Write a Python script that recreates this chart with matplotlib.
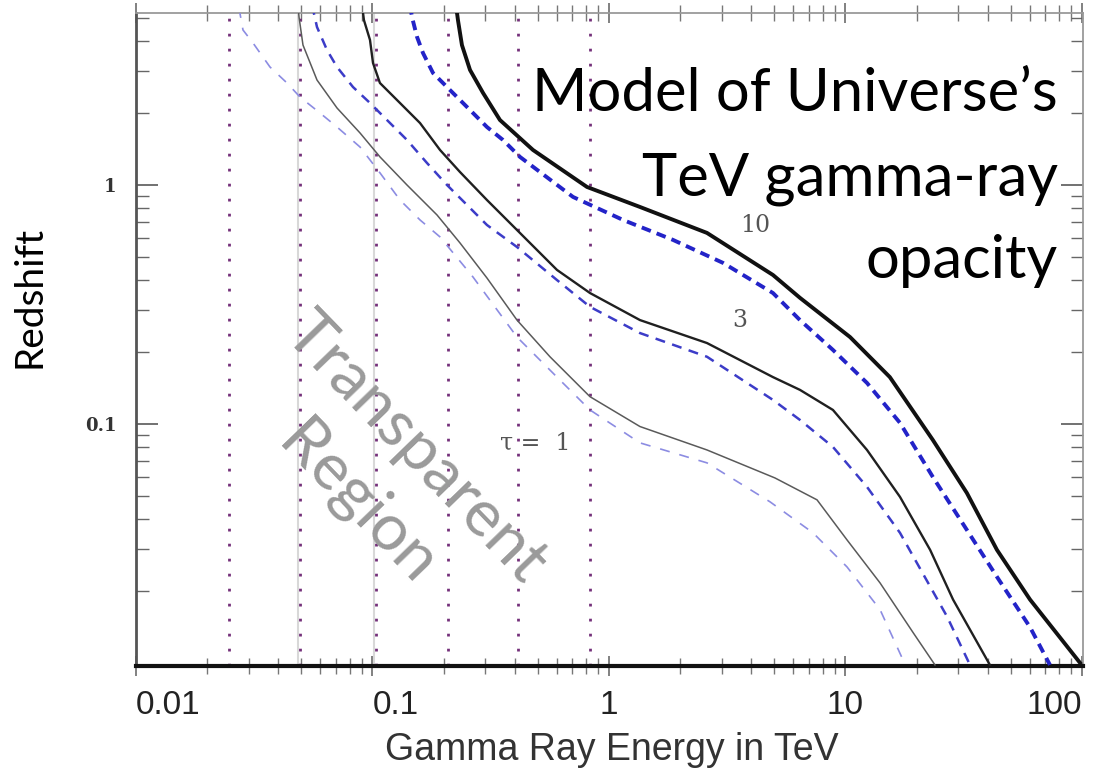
import matplotlib
matplotlib.use("Agg")
import matplotlib.pyplot as plt
import matplotlib.ticker as mticker

# energy (TeV) and redshift, one pair of arrays per curve
e_black10 = [0.2254, 0.2298, 0.2389, 0.2584, 0.2932, 0.3459, 0.4772, 0.8072, 1.352, 2.596, 4.936,
             6.42, 10.45, 15.4, 23.4, 32.6, 43.7, 60.3, 98.1]
z_black10 = [5.664, 4.90, 3.85, 3.03, 2.43, 1.87, 1.401, 0.981, 0.809, 0.630, 0.420,
             0.337, 0.231, 0.157, 0.0857, 0.0514, 0.0297, 0.0184, 0.0100]

e_blue10 = [0.1441, 0.1469, 0.1543, 0.1635, 0.1802, 0.2065, 0.2344, 0.2660, 0.3048, 0.3562, 0.4205,
            0.7045, 1.146, 1.865, 3.034, 4.936, 6.42, 8.85, 12.33, 17.0, 23.4, 32.6, 43.7,
            60.3, 73.2]
z_blue10 = [5.664, 5.046, 4.163, 3.567, 2.943, 2.570, 2.268, 2.001, 1.748, 1.543, 1.310,
            0.891, 0.714, 0.589, 0.472, 0.353, 0.272, 0.204, 0.1484, 0.101, 0.060, 0.0360, 0.0229,
            0.0141, 0.0098]

e_black3 = [0.0903, 0.0920, 0.0976, 0.1005, 0.1075, 0.1307, 0.1588, 0.1930, 0.2344, 0.3048, 0.4083,
            0.6027, 0.8311, 1.352, 2.596, 4.936, 6.42, 8.85, 12.33, 17.0, 22.8, 28.5, 40.8]
z_black3 = [5.664, 4.90, 4.044, 3.239, 2.672, 2.203, 1.817, 1.401, 1.133, 0.865, 0.648,
            0.441, 0.353, 0.272, 0.218, 0.157, 0.1388, 0.1144, 0.0778, 0.0495, 0.0297, 0.0184, 0.0098]

e_blue3 = [0.0555, 0.05825, 0.0642, 0.07078, 0.0827, 0.0976, 0.1151, 0.1399, 0.1700, 0.2065, 0.2509,
           0.3048, 0.4083, 0.6027, 0.8311, 1.352, 2.596, 4.936, 6.42, 8.85, 12.33, 17.0, 26.9, 33.6]
z_blue3 = [5.664, 4.583, 3.672, 3.117, 2.570, 2.203, 1.871, 1.543, 1.236, 1.000, 0.825,
           0.680, 0.550, 0.400, 0.309, 0.240, 0.191, 0.126, 0.1039, 0.0801, 0.0545, 0.035, 0.0156, 0.0098]

e_black1 = [0.0484, 0.0489, 0.05082, 0.05825, 0.07078, 0.08855, 0.1076, 0.1399, 0.1874, 0.2344,
            0.3048, 0.4083, 0.5629, 0.8311, 1.352, 2.596, 5.033, 7.58, 10.15, 14.0, 19.3, 23.9]
z_black1 = [5.664, 5.046, 3.853, 2.750, 2.100, 1.651, 1.310, 1.000, 0.749, 0.572,
            0.408, 0.272, 0.191, 0.130, 0.0975, 0.0778, 0.0594, 0.0481, 0.0327, 0.0216, 0.0134, 0.0098]

e_blue1 = [0.02726, 0.02834, 0.03125, 0.03686, 0.04350, 0.04936, 0.05998, 0.07078, 0.08855, 0.1076,
           0.1307, 0.1588, 0.1930, 0.2660, 0.4083, 0.6027, 0.8311, 1.352, 2.596, 4.795, 7.29,
           10.15, 14.0, 17.9]
z_blue1 = [5.503, 4.452, 3.928, 3.117, 2.672, 2.334, 2.001, 1.748, 1.442, 1.123,
           0.865, 0.714, 0.606, 0.412, 0.231, 0.157, 0.1144, 0.0833, 0.0687, 0.0472, 0.035,
           0.0252, 0.0167, 0.0098]

# energies of the dotted vertical markers
marker_e = [0.0247, 0.0493, 0.1035, 0.2085, 0.412, 0.831]
grey_e = [0.0485, 0.1015]

xticks = [0.01, 0.1, 1, 10, 100]
xticklabels = ["0.01", "0.1", "1", "10", "100"]
yticks = [0.1, 1]
yticklabels = ["0.1", "1"]

title_lines = ["Model of Universe’s", "TeV gamma-ray", "opacity"]

fig = plt.figure(figsize=(10.94, 7.73), dpi=100)
ax = fig.add_axes([136 / 1094, 1 - 666 / 773, (1083 - 136) / 1094, (666 - 13) / 773])
ax.set_xscale("log")
ax.set_yscale("log")
ax.set_xlim(0.01, 101)
ax.set_ylim(0.0097, 5.245)

# faint grey lines of the original figure next to two of the markers
for e in grey_e:
    ax.axvline(e, color="#d8d8d8", lw=1.5, zorder=1)
for e in marker_e:
    ax.axvline(e, color="#74307a", lw=2.0, ls=(0, (1, 4.4)), zorder=2)

ax.plot(e_blue1, z_blue1, color="#8c8ce2", lw=1.2, ls=(0, (6, 6)), zorder=3)
ax.plot(e_black1, z_black1, color="#5a5a5a", lw=1.1, zorder=3)
ax.plot(e_blue3, z_blue3, color="#3c3cc8", lw=1.8, ls=(0, (4, 3)), zorder=3)
ax.plot(e_black3, z_black3, color="#202020", lw=1.7, zorder=3)
ax.plot(e_blue10, z_blue10, color="#2323c8", lw=2.8, ls=(0, (2.5, 1.6)), zorder=3)
ax.plot(e_black10, z_black10, color="#111111", lw=2.8, zorder=3)

ax.text(4.14, 0.674, "10", family="DejaVu Serif", fontsize=17, color="#555555",
        ha="center", va="center")
ax.text(3.58, 0.272, "3", family="DejaVu Serif", fontsize=17, color="#555555",
        ha="center", va="center")
ax.text(0.487, 0.0833, "τ =  1", family="DejaVu Serif", fontsize=17, color="#555555",
        ha="center", va="center")

# axes frame
for side in ["top", "right"]:
    ax.spines[side].set_color("#9a9a9a")
    ax.spines[side].set_linewidth(1.3)
ax.spines["left"].set_color("#555555")
ax.spines["left"].set_linewidth(2.0)
ax.spines["bottom"].set_color("#111111")
ax.spines["bottom"].set_linewidth(3.0)

ax.tick_params(axis="y", which="both", direction="in", left=True, right=True,
               colors="#666666", labelcolor="#333333")
ax.tick_params(axis="y", which="major", length=16, width=1.3, pad=14)
ax.tick_params(axis="y", which="minor", length=9, width=1.0)
ax.tick_params(axis="x", which="both", direction="inout", top=True, colors="#777777")
ax.tick_params(axis="x", which="major", length=14, width=1.3, pad=10)
ax.tick_params(axis="x", which="minor", length=12, width=1.0)

ax.set_yticks(yticks)
ax.set_yticklabels(yticklabels, family="DejaVu Serif", fontsize=13, fontweight="bold")
ax.yaxis.set_minor_formatter(mticker.NullFormatter())
ax.set_xticks(xticks)
ax.set_xticklabels(xticklabels, family="Liberation Sans", fontsize=24, color="#222222")
ax.xaxis.set_minor_formatter(mticker.NullFormatter())
labels = ax.get_xticklabels()
labels[0].set_ha("left")
labels[1].set_ha("left")
labels[-1].set_ha("right")

fig.text(0.559, 0.030, "Gamma Ray Energy in TeV", family="Liberation Sans", fontsize=27,
         color="#333333", ha="center", va="center")
fig.text(0.027, 0.616, "Redshift", family="Lato", fontsize=28, color="black",
         rotation=90, ha="center", va="center")

# title written line by line, right aligned, baselines as in the picture
for line, base in zip(title_lines, [111, 195, 278]):
    fig.text(1058 / 1094, 1 - base / 773, line, family="Lato", fontsize=43,
             color="black", ha="right", va="baseline")

fig.text(386 / 1094, 1 - 476 / 773, "Transparent\nRegion", family="Lato", fontsize=47,
         color="#9a9a9a", rotation=-46, ha="center", va="center",
         multialignment="center", linespacing=1.45, rotation_mode="anchor")

fig.savefig("out.png", dpi=100)
